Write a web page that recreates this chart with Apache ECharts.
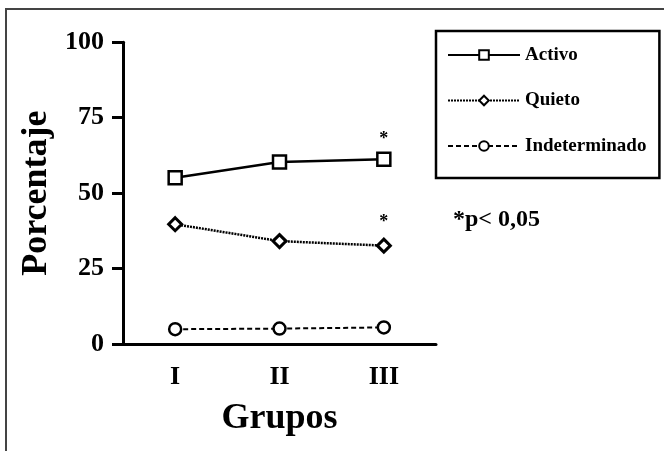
<!DOCTYPE html>
<html>
<head>
<meta charset="utf-8">
<script src="https://cdn.jsdelivr.net/npm/echarts@6/dist/echarts.min.js"></script>
<style>html,body{margin:0;padding:0;background:#fff}#c{width:664px;height:451px}</style>
</head>
<body>
<div id="c"></div>
<script>
// ---- data ----
var categories = ['I', 'II', 'III'];
var activo = [55.1, 60.3, 61.2];
var quieto = [39.7, 34.1, 32.6];
var indeterminado = [4.9, 5.1, 5.5];
var sigActivo = [false, false, true];
var sigQuieto = [false, false, true];
var yTicks = [0, 25, 50, 75, 100];
var seriesNames = ['Activo', 'Quieto', 'Indeterminado'];
var noteText = '*p< 0,05';

var FONT = 'Liberation Serif';

function withStars(vals, sig, dist) {
  return vals.map(function (v, i) {
    if (!sig[i]) return v;
    return {
      value: v,
      label: { show: true, formatter: '*', position: 'top', distance: dist,
               fontFamily: FONT, fontWeight: 'bold', fontSize: 18, color: '#000' }
    };
  });
}

var chart = echarts.init(document.getElementById('c'), null, { renderer: 'canvas' });
chart.setOption({
  animation: false,
  backgroundColor: '#fff',
  grid: { left: 123, right: 228, top: 42.3, bottom: 107, containLabel: false },
  xAxis: {
    type: 'category',
    data: categories,
    boundaryGap: true,
    name: 'Grupos',
    nameLocation: 'middle',
    nameGap: 57,
    nameTextStyle: { fontFamily: FONT, fontWeight: 'bold', fontSize: 36, color: '#000' },
    axisLine: { lineStyle: { color: '#000', width: 3 } },
    axisTick: { alignWithLabel: true, length: 12, lineStyle: { color: '#000', width: 2.5 } },
    axisLabel: { fontFamily: FONT, fontWeight: 'bold', fontSize: 26, color: '#000', margin: 20 },
    splitLine: { show: false }
  },
  yAxis: {
    type: 'value',
    min: yTicks[0],
    max: yTicks[yTicks.length - 1],
    interval: yTicks[1] - yTicks[0],
    name: 'Porcentaje',
    nameLocation: 'middle',
    nameRotate: 90,
    nameGap: 68,
    nameTextStyle: { fontFamily: FONT, fontWeight: 'bold', fontSize: 36, color: '#000' },
    axisLine: { show: true, lineStyle: { color: '#000', width: 3 } },
    axisTick: { show: true, length: 11, lineStyle: { color: '#000', width: 3 } },
    axisLabel: { fontFamily: FONT, fontWeight: 'bold', fontSize: 26, color: '#000', margin: 19 },
    splitLine: { show: false }
  },
  legend: {
    orient: 'vertical',
    left: 436,
    top: 31,
    data: seriesNames,
    itemWidth: 72,
    itemHeight: 12,
    itemGap: 21.5,
    padding: [12, 13, 20, 11],
    borderColor: '#000',
    borderWidth: 2.5,
    borderRadius: 0,
    textStyle: { fontFamily: FONT, fontWeight: 'bold', fontSize: 19, color: '#000', lineHeight: 24 },
    selectedMode: false
  },
  series: [
    {
      name: seriesNames[0], type: 'line', data: withStars(activo, sigActivo, 3),
      symbol: 'rect', symbolSize: 13,
      lineStyle: { color: '#000', width: 2.5, type: 'solid' },
      itemStyle: { color: '#fff', borderColor: '#000', borderWidth: 2.5 },
      z: 3
    },
    {
      name: seriesNames[1], type: 'line', data: withStars(quieto, sigQuieto, 6),
      symbol: 'diamond', symbolSize: 13,
      lineStyle: { color: '#000', width: 2.5, type: [2, 1] },
      itemStyle: { color: '#fff', borderColor: '#000', borderWidth: 3 },
      z: 3
    },
    {
      name: seriesNames[2], type: 'line', data: indeterminado,
      symbol: 'circle', symbolSize: 12,
      lineStyle: { color: '#000', width: 2, type: [5, 3] },
      itemStyle: { color: '#fff', borderColor: '#000', borderWidth: 2.5 },
      z: 3
    }
  ],
  graphic: [
    {
      type: 'polyline', silent: true,
      shape: { points: [[6, 451], [6, 9], [664, 9]] },
      style: { stroke: '#444', lineWidth: 2, fill: null }
    },
    {
      type: 'text', silent: true,
      x: 453, y: 220,
      style: { text: noteText, fontFamily: FONT, fontWeight: 'bold', fontSize: 24,
               fill: '#000', textVerticalAlign: 'middle', textAlign: 'left' }
    }
  ]
});
</script>
</body>
</html>
